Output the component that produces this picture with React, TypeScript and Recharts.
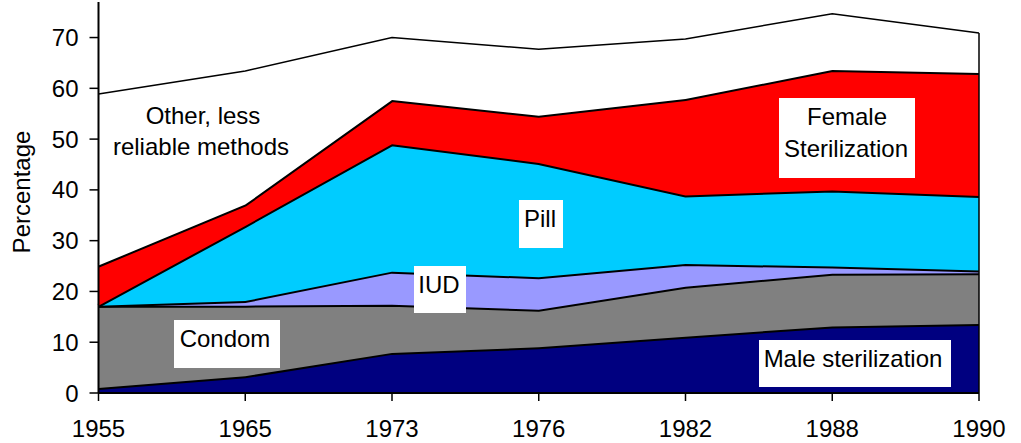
import React from "react";
import { AreaChart, Area, XAxis, YAxis, ReferenceLine } from "recharts";

const years = ["1955", "1965", "1973", "1976", "1982", "1988", "1990"];
const maleSterilization = [1.0, 3.3, 7.9, 9.0, 11.1, 13.1, 13.6];
const condom = [16.2, 13.9, 9.5, 7.4, 9.8, 10.4, 10.0];
const iud = [0, 0.9, 6.5, 6.4, 4.5, 1.4, 0.5];
const pill = [0, 14.8, 25.1, 22.5, 13.5, 15.0, 14.7];
const femaleSterilization = [7.9, 4.2, 8.7, 9.3, 19.0, 23.7, 24.2];
const other = [33.8, 26.3, 12.3, 13.1, 11.8, 11.1, 7.9];
const yTicks = [0, 10, 20, 30, 40, 50, 60, 70];

const data = years.map((year, i) => ({
  year,
  male: maleSterilization[i],
  condom: condom[i],
  iud: iud[i],
  pill: pill[i],
  female: femaleSterilization[i],
  other: other[i],
}));

const lastIdx = years.length - 1;
const lastTotal =
  maleSterilization[lastIdx] + condom[lastIdx] + iud[lastIdx] + pill[lastIdx] +
  femaleSterilization[lastIdx] + other[lastIdx];

const FONT = "'Liberation Sans', Arial, sans-serif";

export default function App() {
  const tickStyle = { fontSize: 24, fill: "#000", fontFamily: FONT };
  return (
    <div style={{ position: "absolute", left: 0, top: 0, width: 1021, height: 443, background: "#fff" }}>
      <AreaChart
        width={1021}
        height={443}
        data={data}
        margin={{ top: 2, right: 42, bottom: 0, left: 0 }}
      >
        <XAxis
          dataKey="year"
          type="category"
          tick={tickStyle}
          tickSize={8}
          tickMargin={19}
          interval={0}
          axisLine={{ stroke: "#000", strokeWidth: 2 }}
          tickLine={{ stroke: "#000", strokeWidth: 1.5 }}
          height={50}
        />
        <YAxis
          domain={[0, 77]}
          ticks={yTicks}
          allowDataOverflow
          width={98.5}
          tick={tickStyle}
          tickSize={9}
          tickMargin={11}
          axisLine={{ stroke: "#000", strokeWidth: 2 }}
          tickLine={{ stroke: "#000", strokeWidth: 1.5 }}
        />
        <Area type="linear" dataKey="male" stackId="1" fill="#000080" fillOpacity={1} stroke="#000" strokeWidth={4} isAnimationActive={false} dot={false} activeDot={false} />
        <Area type="linear" dataKey="condom" stackId="1" fill="#808080" fillOpacity={1} stroke="#000" strokeWidth={4} isAnimationActive={false} dot={false} activeDot={false} />
        <Area type="linear" dataKey="iud" stackId="1" fill="#9999FF" fillOpacity={1} stroke="#000" strokeWidth={4} isAnimationActive={false} dot={false} activeDot={false} />
        <Area type="linear" dataKey="pill" stackId="1" fill="#00CCFF" fillOpacity={1} stroke="#000" strokeWidth={4} isAnimationActive={false} dot={false} activeDot={false} />
        <Area type="linear" dataKey="female" stackId="1" fill="#FF0000" fillOpacity={1} stroke="#000" strokeWidth={4} isAnimationActive={false} dot={false} activeDot={false} />
        <Area type="linear" dataKey="other" stackId="1" fill="#FFFFFF" fillOpacity={1} stroke="#000" strokeWidth={1.5} isAnimationActive={false} dot={false} activeDot={false} />
        <ReferenceLine
          segment={[{ x: years[lastIdx], y: 0 }, { x: years[lastIdx], y: lastTotal }]}
          stroke="#000"
          strokeWidth={1.5}
        />
      </AreaChart>
      <svg
        width={1021}
        height={443}
        style={{ position: "absolute", left: 0, top: 0, pointerEvents: "none" }}
        fontFamily={FONT}
        fontSize={24}
      >
        <text x={30} y={192} textAnchor="middle" transform="rotate(-90 30 192)" fill="#000">Percentage</text>

        <text x={203} y={124} textAnchor="middle" fill="#000">Other, less</text>
        <text x={201} y={155} textAnchor="middle" fill="#000">reliable methods</text>

        <rect x={779} y={98} width={136} height={80} fill="#fff" />
        <text x={847} y={125} textAnchor="middle" fill="#000">Female</text>
        <text x={846} y={157} textAnchor="middle" fill="#000">Sterilization</text>

        <rect x={519} y={200} width={44} height={48} fill="#fff" />
        <text x={540} y={227} textAnchor="middle" fill="#000">Pill</text>

        <rect x={414} y={266} width={52} height={47} fill="#fff" />
        <text x={439} y={293} textAnchor="middle" fill="#000">IUD</text>

        <rect x={174} y={320} width={106} height={48} fill="#fff" />
        <text x={225} y={347} textAnchor="middle" fill="#000">Condom</text>

        <rect x={759} y={340} width={192} height={47} fill="#fff" />
        <text x={853} y={367} textAnchor="middle" fill="#000">Male sterilization</text>
      </svg>
    </div>
  );
}
